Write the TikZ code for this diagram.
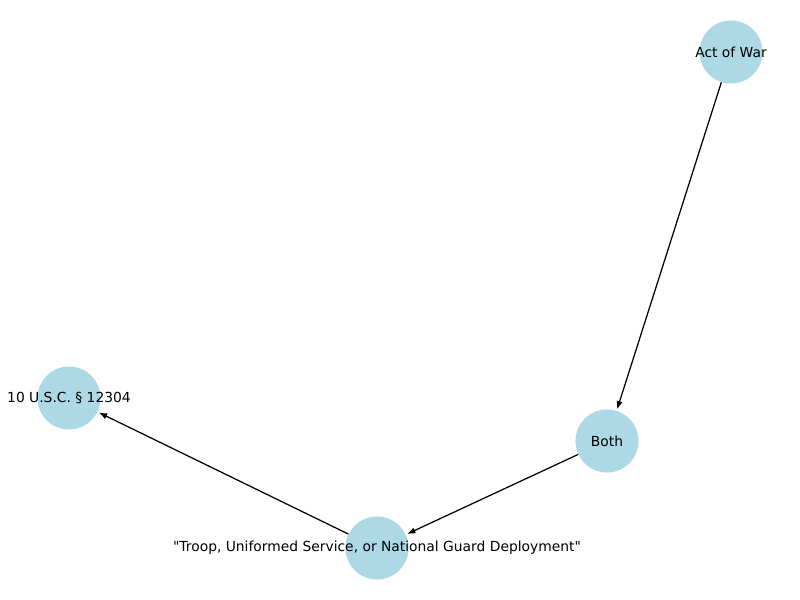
\documentclass[tikz,border=0pt]{standalone}
\usepackage{fontspec}
\setmainfont{DejaVu Sans}[Ligatures=TeXOff]
\usepackage{tikz}
\usetikzlibrary{arrows.meta,positioning}

\begin{document}
\begin{tikzpicture}[x=0.01in,y=-0.01in,shorten >=1pt,>={Latex[length=6pt,width=4.5pt]}]
       \tikzstyle{every node}=[font=\fontsize{10}{12}\selectfont]
       \tikzstyle{vertex}=[circle,fill={rgb,255:red,173;green,216;blue,230},minimum size=0.63in,inner sep=0pt]
       \useasboundingbox (0,0) rectangle (800,600);

       \node[vertex,label=center:Act of War] (war)   at (731,52)  {};
       \node[vertex,label=center:Both]       (both)  at (607,441) {};
       \node[vertex,label=center:{"Troop, Uniformed Service, or National Guard Deployment"}] (troop) at (377,548) {};
       \node[vertex,label=center:10 U.S.C. \S{} 12304] (usc) at (69,398) {};

       \path[->,line width=0.9pt]
       (war)   edge [] (both)
       (both)  edge [] (troop)
       (troop) edge [] (usc);
     \end{tikzpicture}
\end{document}
